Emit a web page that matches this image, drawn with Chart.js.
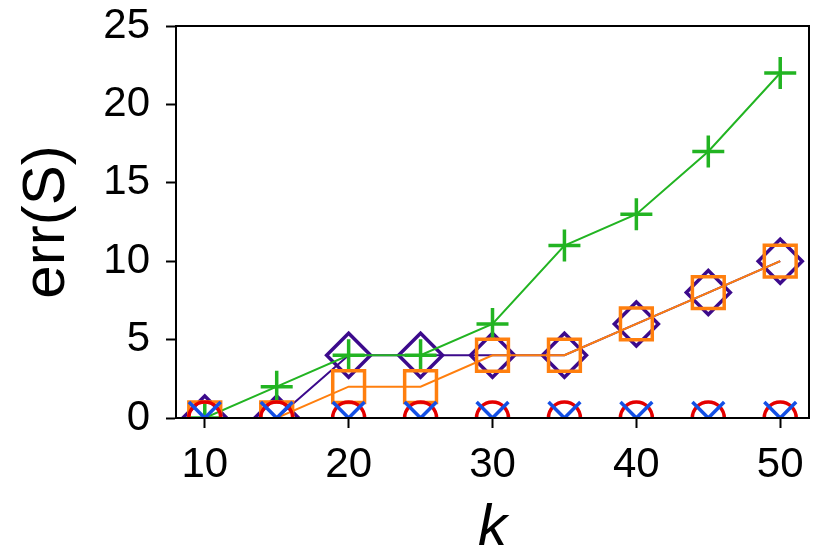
<!DOCTYPE html>
<html>
<head>
<meta charset="utf-8">
<script src="https://cdn.jsdelivr.net/npm/chart.js@4/dist/chart.umd.min.js"></script>
<style>
  html, body { margin: 0; padding: 0; background: #fff; }
  #wrap { width: 830px; height: 554px; }
</style>
</head>
<body>
<div id="wrap"><canvas id="c" width="830" height="554"></canvas></div>
<script>
const kValues = [10, 15, 20, 25, 30, 35, 40, 45, 50];
const xTicks = [10, 20, 30, 40, 50];
const yTicks = [0, 5, 10, 15, 20, 25];
const seriesPlus = [0, 2, 4, 4, 6, 11, 13, 17, 22];
const seriesDiamond = [0, 0, 4, 4, 4, 4, 6, 8, 10];
const seriesSquare = [0, 0, 2, 2, 4, 4, 6, 8, 10];
const seriesCircle = [0, 0, 0, 0, 0, 0, 0, 0, 0];
const seriesCross = [0, 0, 0, 0, 0, 0, 0, 0, 0];

const toPts = arr => arr.map((v, i) => ({ x: kValues[i], y: v }));
const FONT = "'Liberation Sans', Arial, Helvetica, sans-serif";

function ds(data, color, style, radius) {
  return {
    data: toPts(data),
    borderColor: color,
    backgroundColor: 'rgba(0,0,0,0)',
    borderWidth: 2,
    pointStyle: style,
    pointRadius: radius,
    pointHoverRadius: radius,
    pointBorderColor: color,
    pointBackgroundColor: 'rgba(0,0,0,0)',
    pointBorderWidth: 3.5,
    pointHoverBorderWidth: 3.5,
    tension: 0,
    fill: false,
    clip: 0
  };
}

const framePlugin = {
  id: 'frame',
  afterDatasetsDraw(chart) {
    const { ctx, chartArea: a } = chart;
    ctx.save();
    ctx.strokeStyle = '#000';
    ctx.lineWidth = 2;
    ctx.strokeRect(a.left, a.top, a.right - a.left, a.bottom - a.top);
    ctx.restore();
  }
};

new Chart(document.getElementById('c'), {
  type: 'line',
  data: {
    datasets: [
      ds(seriesCross, 'rgb(20,80,230)', 'crossRot', 22.5),
      ds(seriesCircle, 'rgb(228,0,0)', 'circle', 16),
      ds(seriesSquare, 'rgb(255,127,14)', 'rect', 22.5),
      ds(seriesPlus, 'rgb(34,180,34)', 'cross', 16),
      ds(seriesDiamond, 'rgb(60,10,140)', 'rectRot', 22)
    ]
  },
  options: {
    responsive: false,
    animation: false,
    devicePixelRatio: 1,
    layout: { autoPadding: false, padding: { top: 26, right: 21, left: 0, bottom: 0 } },
    plugins: { legend: { display: false }, tooltip: { enabled: false } },
    scales: {
      x: {
        type: 'linear',
        min: 8,
        max: 52,
        afterBuildTicks: s => { s.ticks = xTicks.map(v => ({ value: v })); },
        afterFit: s => { s.height = 136; s.paddingLeft = 0; s.paddingRight = 0; },
        grid: { drawOnChartArea: false, drawTicks: true, tickLength: 10, tickWidth: 2, tickColor: '#000' },
        border: { display: true, color: '#000', width: 2 },
        ticks: { color: '#000', padding: 12, font: { family: FONT, size: 42, lineHeight: 1.2 }, maxRotation: 0 },
        title: { display: true, text: 'k', color: '#000', padding: { top: 0, bottom: -4 },
                 font: { family: FONT, size: 58, style: 'italic', lineHeight: 1 } }
      },
      y: {
        type: 'linear',
        min: 0,
        max: 25,
        afterBuildTicks: s => { s.ticks = yTicks.map(v => ({ value: v })); },
        afterFit: s => { s.width = 176; s.paddingTop = 0; s.paddingBottom = 0; },
        grid: { drawOnChartArea: false, drawTicks: true, tickLength: 10, tickWidth: 2, tickColor: '#000' },
        border: { display: true, color: '#000', width: 2 },
        ticks: { color: '#000', padding: 16, font: { family: FONT, size: 42, lineHeight: 1.2 } },
        title: { display: true, text: 'err(S)', color: '#000', padding: { top: 17, bottom: 0 },
                 font: { family: FONT, size: 60, lineHeight: 1 } }
      }
    }
  },
  plugins: [framePlugin]
});
</script>
</body>
</html>
